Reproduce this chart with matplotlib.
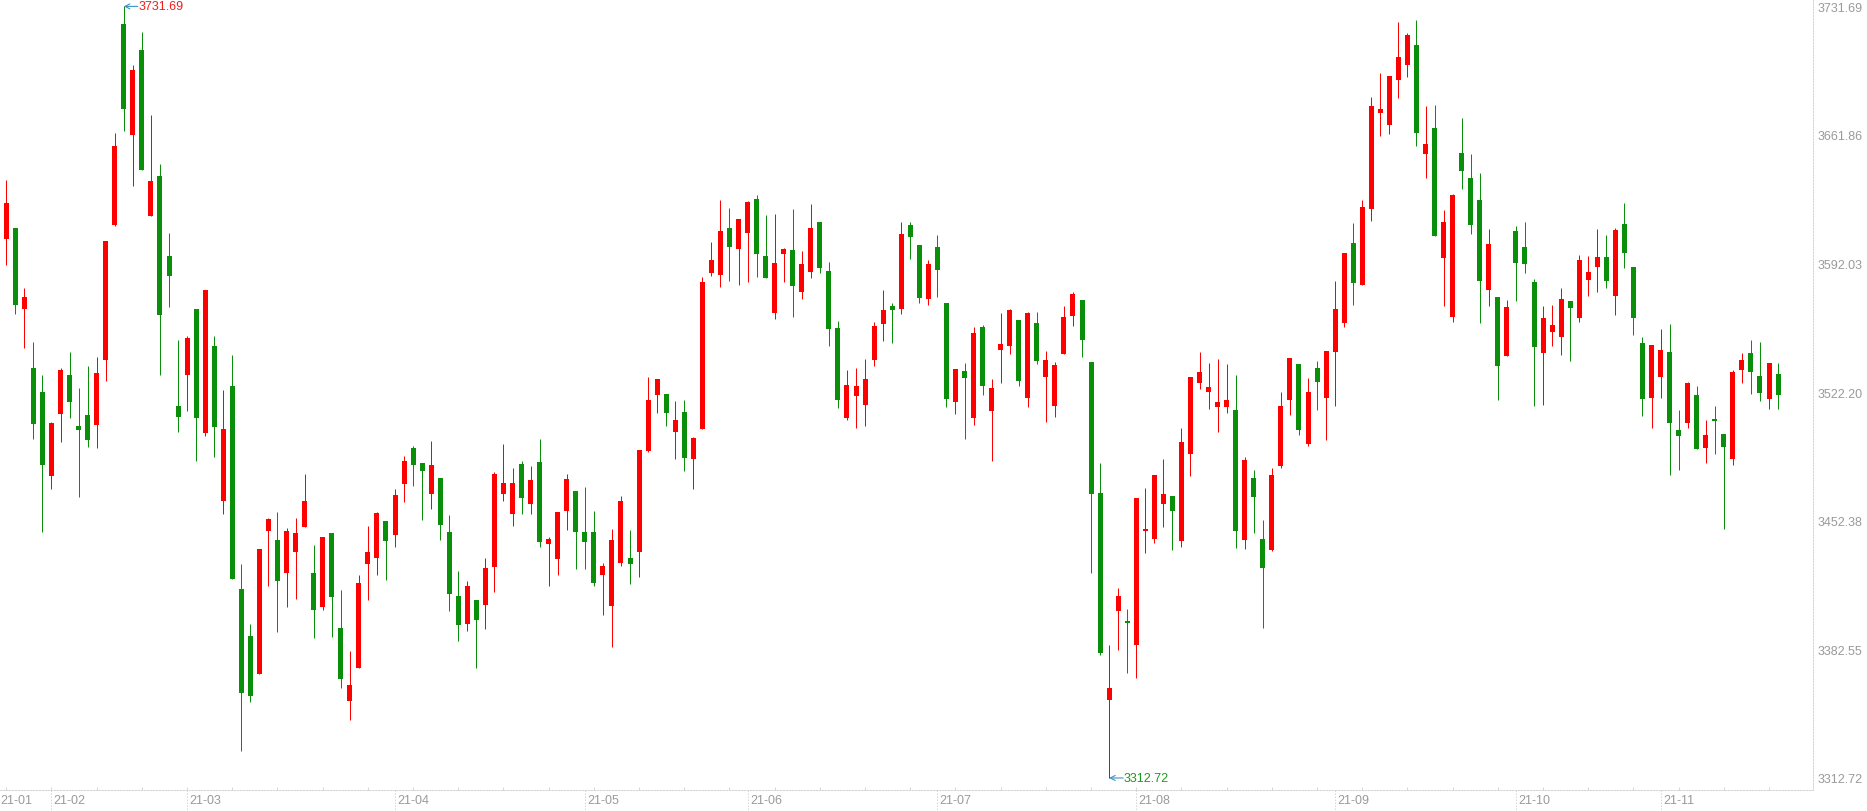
import numpy as np
import matplotlib
matplotlib.use("Agg")
import matplotlib.pyplot as plt

plt.rcParams['font.family'] = ['Liberation Sans', 'DejaVu Sans']

# daily candles, 2021-01-25 .. 2021-11-18 (open, high, low, close)
opens = [3605.55, 3611.31, 3567.59, 3535.23, 3522.15, 3476.70, 3510.41, 3531.48, 3503.73, 3509.71,
         3504.39, 3539.90, 3613.04, 3721.97, 3662.08, 3707.96, 3617.93, 3639.49, 3595.99, 3514.60,
         3531.70, 3567.38, 3500.04, 3547.45, 3463.28, 3525.57, 3415.34, 3389.82, 3369.35, 3447.00,
         3441.94, 3424.18, 3435.59, 3449.17, 3424.02, 3405.72, 3445.74, 3394.17, 3354.69, 3372.61,
         3429.07, 3432.33, 3452.26, 3444.82, 3472.51, 3491.90, 3483.75, 3467.08, 3475.61, 3446.29,
         3411.53, 3396.50, 3409.36, 3406.81, 3427.45, 3467.08, 3456.22, 3483.21, 3461.65, 3484.30,
         3439.93, 3431.79, 3457.85, 3468.55, 3446.29, 3446.29, 3423.10, 3406.27, 3429.62, 3432.17,
         3435.59, 3490.43, 3520.84, 3521.22, 3500.75, 3511.45, 3486.09, 3502.38, 3587.09, 3586.00,
         3611.36, 3600.12, 3608.81, 3627.11, 3596.16, 3565.37, 3597.41, 3599.42, 3576.77, 3587.63,
         3614.62, 3588.01, 3557.06, 3508.35, 3520.30, 3515.41, 3539.84, 3559.39, 3569.01, 3567.54,
         3612.99, 3602.13, 3572.97, 3601.04, 3570.64, 3517.04, 3533.71, 3508.35, 3557.60, 3512.15,
         3545.28, 3547.45, 3561.40, 3519.21, 3559.77, 3530.61, 3514.87, 3543.10, 3563.74, 3572.26,
         3538.60, 3467.46, 3355.23, 3403.55, 3397.96, 3385.09, 3446.66, 3442.65, 3461.65, 3465.83,
         3441.56, 3488.80, 3527.36, 3522.47, 3514.33, 3514.33, 3512.53, 3442.10, 3475.61, 3442.48,
         3436.67, 3482.29, 3518.13, 3537.51, 3494.24, 3535.34, 3519.21, 3544.19, 3559.94, 3603.22,
         3580.57, 3621.84, 3673.97, 3667.45, 3691.89, 3700.03, 3710.73, 3651.71, 3665.66, 3595.23,
         3563.20, 3652.09, 3638.51, 3626.56, 3577.86, 3573.89, 3542.02, 3609.73, 3601.04, 3582.04,
         3543.65, 3555.05, 3552.34, 3571.72, 3562.65, 3583.29, 3590.35, 3595.61, 3574.60, 3613.53,
         3590.18, 3548.92, 3519.21, 3530.61, 3544.03, 3501.67, 3505.63, 3520.68, 3492.06, 3507.65,
         3499.50, 3486.09, 3534.41, 3543.48, 3531.00, 3518.67, 3532.08]
highs = [3637.48, 3611.50, 3578.67, 3549.40, 3531.48, 3505.96, 3535.23, 3543.87, 3524.37, 3536.32,
         3541.42, 3604.30, 3662.95, 3731.69, 3699.76, 3717.74, 3672.72, 3646.11, 3608.65, 3550.54,
         3552.77, 3567.38, 3577.70, 3552.72, 3523.39, 3542.40, 3428.91, 3396.34, 3437.05, 3454.06,
         3457.15, 3448.46, 3453.89, 3477.78, 3439.23, 3443.57, 3445.74, 3414.79, 3381.67, 3422.93,
         3449.55, 3457.15, 3452.26, 3469.64, 3487.56, 3492.99, 3483.75, 3495.70, 3475.61, 3455.51,
         3425.11, 3419.68, 3409.36, 3432.17, 3478.87, 3494.07, 3481.04, 3484.84, 3482.12, 3496.79,
         3443.57, 3457.15, 3477.78, 3468.55, 3470.72, 3457.69, 3429.46, 3447.92, 3465.83, 3447.37,
         3490.81, 3530.45, 3529.37, 3521.22, 3517.42, 3517.96, 3497.87, 3584.75, 3603.76, 3626.56,
         3622.22, 3616.25, 3626.02, 3629.28, 3618.42, 3618.96, 3600.50, 3621.68, 3598.87, 3624.39,
         3614.62, 3592.90, 3560.86, 3534.25, 3535.34, 3540.23, 3560.32, 3577.70, 3570.64, 3614.62,
         3614.62, 3602.13, 3593.98, 3607.56, 3570.64, 3534.80, 3538.05, 3557.60, 3558.69, 3529.37,
         3565.37, 3567.38, 3561.40, 3565.75, 3565.75, 3544.73, 3538.60, 3569.01, 3576.61, 3572.26,
         3538.60, 3483.75, 3384.93, 3415.88, 3404.47, 3464.75, 3470.18, 3477.24, 3485.93, 3465.83,
         3502.76, 3530.45, 3544.03, 3538.05, 3540.23, 3537.51, 3531.54, 3487.01, 3479.95, 3452.80,
         3481.04, 3522.31, 3540.77, 3537.51, 3529.91, 3539.14, 3544.57, 3582.58, 3597.79, 3614.08,
         3626.56, 3682.49, 3695.53, 3693.90, 3723.22, 3717.25, 3724.31, 3677.61, 3678.15, 3621.13,
         3629.82, 3671.09, 3651.54, 3641.23, 3610.82, 3573.89, 3572.26, 3612.45, 3614.62, 3583.67,
         3569.01, 3569.55, 3578.78, 3571.72, 3596.70, 3596.16, 3610.82, 3607.56, 3611.36, 3624.94,
         3590.18, 3552.17, 3547.83, 3556.52, 3559.23, 3512.53, 3527.74, 3525.57, 3507.10, 3514.70,
         3499.50, 3534.25, 3543.48, 3550.54, 3549.46, 3538.05, 3538.05]
lows = [3591.32, 3564.72, 3546.09, 3496.88, 3446.29, 3469.80, 3495.32, 3508.19, 3465.40, 3492.44,
        3492.00, 3528.33, 3612.39, 3664.30, 3634.39, 3643.02, 3617.93, 3531.70, 3568.52, 3500.70,
        3512.15, 3485.00, 3498.57, 3487.17, 3456.22, 3420.93, 3327.53, 3354.14, 3369.35, 3417.13,
        3392.15, 3405.72, 3410.07, 3449.17, 3388.89, 3404.09, 3389.44, 3361.75, 3344.37, 3372.61,
        3409.53, 3423.10, 3420.39, 3438.30, 3462.74, 3471.43, 3452.97, 3458.93, 3442.10, 3403.55,
        3387.26, 3392.70, 3372.61, 3393.78, 3413.87, 3463.28, 3449.71, 3456.22, 3456.22, 3438.30,
        3417.13, 3423.10, 3447.54, 3426.36, 3426.36, 3416.80, 3401.38, 3383.99, 3427.99, 3418.05,
        3422.01, 3489.89, 3511.07, 3504.01, 3486.09, 3479.57, 3469.80, 3502.38, 3585.46, 3579.49,
        3582.74, 3580.57, 3582.20, 3584.92, 3584.37, 3562.11, 3582.20, 3563.20, 3572.97, 3584.37,
        3587.09, 3547.45, 3513.78, 3507.26, 3502.92, 3504.01, 3536.59, 3550.16, 3549.08, 3564.82,
        3594.69, 3570.80, 3569.71, 3574.06, 3514.33, 3510.53, 3496.94, 3504.55, 3520.84, 3485.00,
        3527.36, 3543.10, 3525.73, 3514.33, 3537.67, 3506.17, 3508.89, 3543.10, 3558.31, 3541.48,
        3424.18, 3379.66, 3312.72, 3382.38, 3369.89, 3367.17, 3435.05, 3440.48, 3449.17, 3436.67,
        3438.30, 3476.86, 3524.10, 3513.24, 3500.75, 3511.07, 3437.76, 3437.22, 3445.91, 3394.32,
        3436.13, 3481.21, 3509.98, 3499.12, 3493.15, 3512.70, 3496.41, 3514.87, 3557.76, 3569.71,
        3580.57, 3615.32, 3661.48, 3662.57, 3682.11, 3693.52, 3656.05, 3638.67, 3607.18, 3569.17,
        3560.48, 3632.70, 3608.27, 3559.94, 3569.17, 3518.13, 3542.02, 3571.88, 3587.09, 3514.87,
        3515.41, 3547.45, 3542.56, 3539.30, 3560.48, 3574.60, 3576.77, 3578.94, 3564.28, 3589.80,
        3553.42, 3509.44, 3502.92, 3519.21, 3477.40, 3480.11, 3502.92, 3491.52, 3483.91, 3488.80,
        3448.08, 3482.83, 3527.36, 3521.38, 3517.58, 3513.24, 3513.24]
closes = [3624.83, 3569.60, 3573.84, 3505.08, 3482.67, 3505.31, 3534.15, 3517.04, 3501.72, 3496.41,
          3532.57, 3604.19, 3655.89, 3675.82, 3697.10, 3643.02, 3636.83, 3564.28, 3585.35, 3508.84,
          3551.63, 3508.35, 3577.70, 3503.46, 3502.22, 3420.93, 3359.03, 3357.40, 3437.05, 3453.35,
          3419.84, 3446.83, 3445.74, 3463.12, 3404.09, 3443.57, 3411.15, 3366.64, 3363.21, 3418.59,
          3435.43, 3456.60, 3441.56, 3466.38, 3484.84, 3482.83, 3479.57, 3482.67, 3450.25, 3412.78,
          3395.96, 3416.97, 3398.67, 3426.74, 3477.78, 3472.89, 3472.89, 3464.92, 3474.52, 3441.02,
          3442.48, 3457.15, 3475.07, 3446.45, 3441.02, 3418.76, 3427.83, 3441.94, 3463.12, 3429.07,
          3490.81, 3517.96, 3529.37, 3511.07, 3507.10, 3486.63, 3497.33, 3582.04, 3593.98, 3609.73,
          3601.21, 3616.25, 3625.48, 3597.41, 3584.37, 3592.36, 3599.96, 3580.03, 3591.81, 3611.36,
          3589.80, 3556.68, 3518.13, 3526.11, 3525.57, 3529.37, 3558.15, 3566.84, 3567.00, 3608.10,
          3606.64, 3573.51, 3591.81, 3588.72, 3518.67, 3534.80, 3530.07, 3554.35, 3525.73, 3524.48,
          3548.37, 3566.84, 3528.44, 3565.21, 3539.30, 3539.68, 3536.97, 3563.03, 3575.53, 3550.71,
          3467.08, 3380.75, 3361.58, 3411.53, 3397.04, 3464.75, 3447.92, 3477.24, 3466.92, 3457.85,
          3495.16, 3530.45, 3533.17, 3525.02, 3516.88, 3517.96, 3447.00, 3485.38, 3465.45, 3426.90,
          3477.24, 3514.70, 3540.77, 3501.83, 3522.31, 3527.90, 3544.57, 3567.38, 3597.79, 3581.66,
          3622.76, 3677.61, 3675.98, 3693.90, 3704.21, 3716.16, 3663.11, 3656.97, 3607.18, 3614.62,
          3629.28, 3642.47, 3613.15, 3582.74, 3602.67, 3536.59, 3568.46, 3592.52, 3591.97, 3546.91,
          3562.49, 3558.69, 3572.80, 3568.09, 3593.98, 3587.47, 3595.61, 3582.74, 3610.27, 3597.95,
          3562.65, 3518.67, 3547.83, 3545.11, 3505.63, 3498.57, 3527.20, 3491.52, 3498.96, 3506.72,
          3492.60, 3533.17, 3539.68, 3533.33, 3521.93, 3538.05, 3520.84]

# first candle of each month shown on the x axis
month_starts = [0, 5, 20, 43, 64, 82, 103, 125, 147, 167, 183]
month_labels = ["21-01", "21-02", "21-03", "21-04", "21-05", "21-06",
                "21-07", "21-08", "21-09", "21-10", "21-11"]
price_labels = ["3312.72", "3382.55", "3452.38", "3522.20", "3592.03", "3661.86", "3731.69"]

UP, DOWN = "#ff0000", "#0a8f0a"
GRID, TXT, ARROW = "#d6d6d6", "#9a9a9a", "#3a96c0"
PX = 72 / 100  # one pixel in points

o, h, l, c = map(np.array, (opens, highs, lows, closes))
x = np.arange(len(o))
up = c >= o
col = np.where(up, UP, DOWN)

fig = plt.figure(figsize=(18.67, 8.12), dpi=100)
W, H = 1867, 812
ax = fig.add_axes([0, (H - 790.7) / H, 1812.7 / W, 790.7 / H])

# candles: wick + body
ax.vlines(x, l, h, colors=col, linewidth=1.0 * PX, zorder=2)
lo_b = np.minimum(o, c)
hgt = np.maximum(np.abs(c - o), 0.7)
ax.bar(x, hgt, bottom=lo_b, width=0.553, color=col, linewidth=0, zorder=3)

ax.set_xlim(-0.697, 199.83)
ax.set_ylim(3306.35, 3735.71)

# right price axis
ticks = np.linspace(l.min(), h.max(), len(price_labels))
ax.yaxis.tick_right()
ax.set_yticks(ticks)
ax.set_yticklabels(price_labels)
ax.tick_params(axis="y", length=0, pad=5 * PX, labelsize=9, labelcolor=TXT)

# small ticks every 5 sessions on the bottom line
ax.set_xticks(np.arange(0, len(x), 5))
ax.tick_params(axis="x", direction="in", length=2, width=PX, color=GRID, labelbottom=False)

for s in ("top", "left"):
    ax.spines[s].set_visible(False)
for s in ("bottom", "right"):
    ax.spines[s].set_color(GRID)
    ax.spines[s].set_linewidth(PX)
    ax.spines[s].set_linestyle((0, (1.5, 1.5)))

# month labels and separators below the axis
xt = ax.get_xaxis_transform()
for i, (ms, lab) in enumerate(zip(month_starts, month_labels)):
    if i == 0:
        ax.text(-0.697, -10 / 790.7, lab, transform=xt, ha="left", va="center",
                fontsize=9, color=TXT, clip_on=False)
        continue
    ax.plot([ms, ms], [0, -21.3 / 790.7], transform=xt, color=GRID, lw=PX,
            ls=(0, (1.5, 1.5)), clip_on=False)
    ax.text(ms + 0.25, -10 / 790.7, lab, transform=xt, ha="left", va="center",
            fontsize=9, color=TXT, clip_on=False)

# extreme markers
ih, il = int(np.argmax(h)), int(np.argmin(l))
ax.annotate("", xy=(ih, h[ih]), xytext=(ih + 1.55, h[ih]),
            arrowprops=dict(arrowstyle="->,head_length=0.35,head_width=0.18", color=ARROW, lw=0.8, shrinkA=0, shrinkB=0))
ax.text(ih + 1.6, h[ih], f"{h[ih]:.2f}", ha="left", va="center", fontsize=9, color="#f01e1e")
ax.annotate("", xy=(il, l[il]), xytext=(il + 1.55, l[il]),
            arrowprops=dict(arrowstyle="->,head_length=0.35,head_width=0.18", color=ARROW, lw=0.8, shrinkA=0, shrinkB=0))
ax.text(il + 1.6, l[il], f"{l[il]:.2f}", ha="left", va="center", fontsize=9, color="#1a9a1a")

fig.savefig("out.png", dpi=100)
